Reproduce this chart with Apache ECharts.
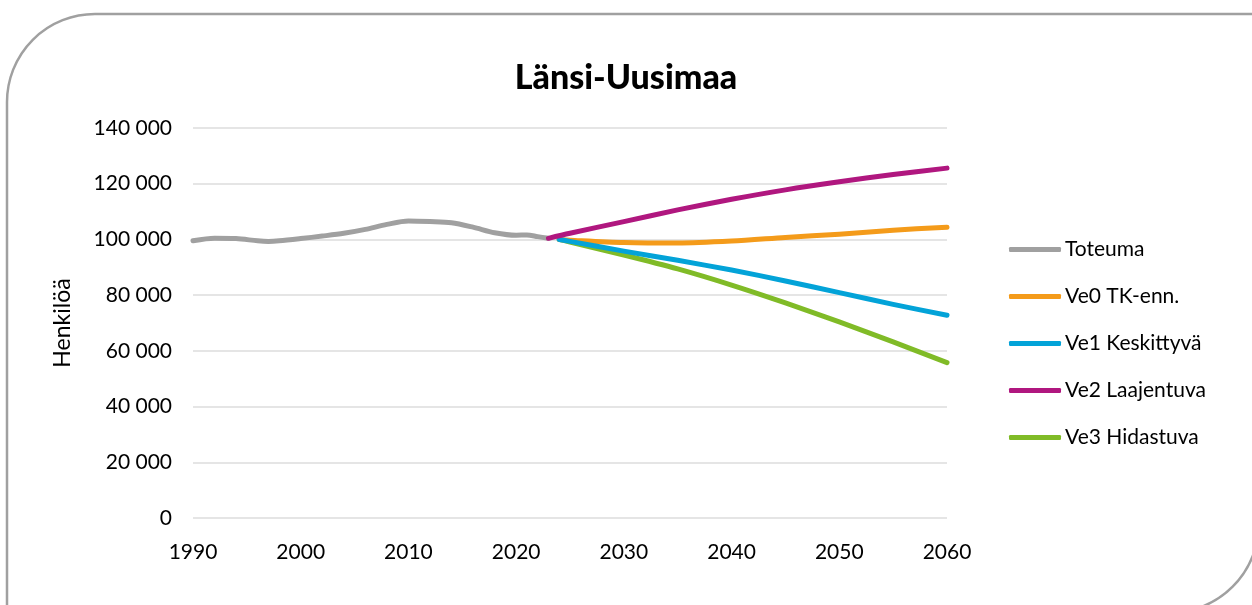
<!DOCTYPE html>
<html>
<head>
<meta charset="utf-8">
<title>Länsi-Uusimaa</title>
<script src="https://cdn.jsdelivr.net/npm/echarts@6/dist/echarts.min.js"></script>
<style>
    html, body { margin: 0; padding: 0; background: #fff; }
    #chart { width: 1252px; height: 605px; }
</style>
</head>
<body>
<div id="chart"></div>
<script>
// toteutunut väkiluku
var toteumaYears = [1990, 1992, 1994, 1996, 1997, 1998, 2000, 2002, 2004, 2006, 2008, 2010, 2012, 2014, 2016, 2018, 2020, 2021, 2022, 2023];
var toteuma = [99500, 100400, 100300, 99500, 99300, 99500, 100300, 101200, 102200, 103600, 105400, 106600, 106400, 106000, 104400, 102400, 101500, 101600, 101000, 100400];

// ennusteet
var projYears = [2024, 2025, 2030, 2035, 2040, 2045, 2050, 2055, 2060];
var ve0 = [100000, 99750, 98900, 98700, 99400, 100700, 101900, 103300, 104400];
var ve1 = [100000, 99300, 95800, 92500, 89000, 85100, 80900, 76700, 72800];
var ve3 = [100000, 99050, 94400, 89400, 83600, 77200, 70400, 63200, 55800];
var ve2Years = [2023, 2025, 2030, 2035, 2040, 2045, 2050, 2055, 2060];
var ve2 = [100400, 102200, 106400, 110600, 114400, 117800, 120700, 123300, 125600];

var seriesNames = ['Toteuma', 'Ve0 TK-enn.', 'Ve1 Keskittyvä', 'Ve2 Laajentuva', 'Ve3 Hidastuva'];
var colors = ['#a0a0a0', '#f49b1a', '#03a3d8', '#b0177f', '#80bb27'];

function pairs(xs, ys) {
    return xs.map(function (x, i) { return [x, ys[i]]; });
}

var font = 'Lato, "Open Sans", sans-serif';

function lineSeries(name, color, data, z) {
    return {
        name: name,
        type: 'line',
        data: data,
        smooth: 0.3,
        symbol: 'none',
        z: z,
        lineStyle: { color: color, width: 5, cap: 'round', join: 'round' },
        itemStyle: { color: color }
    };
}

var chart = echarts.init(document.getElementById('chart'));
chart.setOption({
    animation: false,
    backgroundColor: '#fff',
    graphic: [{
        type: 'rect',
        shape: { x: 7, y: 14, width: 1252, height: 599, r: [88, 0, 90, 0] },
        style: { fill: 'none', stroke: '#a0a0a0', lineWidth: 2.5 },
        z: -1
    }],
    title: {
        text: 'Länsi-Uusimaa',
        left: 'center',
        top: 56,
        textStyle: { fontFamily: font, fontSize: 34, fontWeight: 900, color: '#000' }
    },
    legend: {
        orient: 'vertical',
        left: 1004,
        top: 234,
        itemWidth: 52,
        itemHeight: 5,
        itemGap: 26,
        icon: 'roundRect',
        data: seriesNames,
        textStyle: { fontFamily: font, fontSize: 21, color: '#000', padding: [0, 0, 0, -1] }
    },
    grid: { left: 193, right: 305, top: 128, bottom: 87 },
    xAxis: {
        type: 'value',
        min: 1990,
        max: 2060,
        interval: 10,
        axisLine: { show: false },
        axisTick: { show: false },
        splitLine: { show: false },
        axisLabel: {
            margin: 24,
            fontFamily: font,
            fontSize: 21,
            color: '#000',
            formatter: function (v) { return String(v); }
        }
    },
    yAxis: {
        type: 'value',
        min: 0,
        max: 140000,
        interval: 20000,
        name: 'Henkilöä',
        nameLocation: 'middle',
        nameRotate: 90,
        nameGap: 119,
        nameTextStyle: { fontFamily: font, fontSize: 23, color: '#000' },
        axisLine: { show: false },
        axisTick: { show: false },
        splitLine: { lineStyle: { color: '#dcdcdc', width: 1.5 } },
        axisLabel: {
            margin: 21,
            fontFamily: font,
            fontSize: 21,
            color: '#000',
            formatter: function (v) {
                return String(v).replace(/\B(?=(\d{3})+(?!\d))/g, ' ');
            }
        }
    },
    series: [
        lineSeries(seriesNames[0], colors[0], pairs(toteumaYears, toteuma), 2),
        lineSeries(seriesNames[1], colors[1], pairs(projYears, ve0), 3),
        lineSeries(seriesNames[2], colors[2], pairs(projYears, ve1), 4),
        lineSeries(seriesNames[3], colors[3], pairs(ve2Years, ve2), 5),
        lineSeries(seriesNames[4], colors[4], pairs(projYears, ve3), 2)
    ]
});
</script>
</body>
</html>
